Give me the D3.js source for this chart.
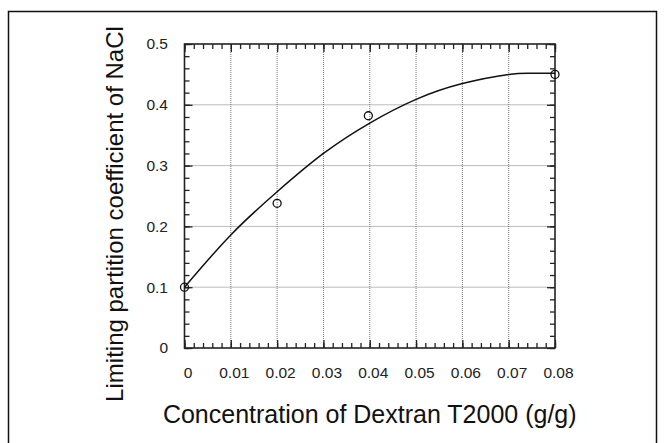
<!DOCTYPE html>
<html>
<head>
<meta charset="utf-8">
<script src="https://cdn.jsdelivr.net/npm/d3@7"></script>
<style>
  body { margin: 0; background: #fff; }
  svg { display: block; font-family: "Liberation Sans", Arial, sans-serif; }
</style>
</head>
<body>
<div class="chart"></div>
<script>
// measured partition coefficients
const concentration = [0, 0.02, 0.0397, 0.08];
const partition = [0.1, 0.238, 0.382, 0.45];

// fitted curve, read at fixed concentrations
const fitConcentration = [0, 0.01, 0.02, 0.03, 0.04, 0.05, 0.06, 0.07, 0.075, 0.08];
const fitPartition = [0.1, 0.186, 0.257, 0.32, 0.37, 0.409, 0.435, 0.45, 0.452, 0.452];

const xTicks = [0, 0.01, 0.02, 0.03, 0.04, 0.05, 0.06, 0.07, 0.08];
const yTicks = [0, 0.1, 0.2, 0.3, 0.4, 0.5];
const xMinorTicks = d3.range(0, 0.0801, 0.002);
const yMinorTicks = d3.range(0, 0.501, 0.02);

const W = 665, H = 443;
const plot = { left: 184.5, right: 555, top: 44, bottom: 348 };

const svg = d3.select(".chart").append("svg")
  .attr("width", W)
  .attr("height", H);

// outer frame
svg.append("rect")
  .attr("x", 8.5).attr("y", 11.5)
  .attr("width", 648).attr("height", 460)
  .attr("fill", "none")
  .attr("stroke", "#111")
  .attr("stroke-width", 1.5);

const x = d3.scaleLinear().domain([0, 0.08]).range([plot.left, plot.right]);
const y = d3.scaleLinear().domain([0, 0.5]).range([plot.bottom, plot.top]);

// dotted grid
const grid = svg.append("g")
  .attr("stroke", "#777")
  .attr("stroke-width", 1)
  .attr("stroke-dasharray", "1,1");
grid.selectAll("line.v")
  .data(xTicks.slice(1, -1))
  .join("line")
  .attr("class", "v")
  .attr("x1", d => x(d)).attr("x2", d => x(d))
  .attr("y1", plot.top).attr("y2", plot.bottom);
grid.selectAll("line.h")
  .data(yTicks.slice(1, -1))
  .join("line")
  .attr("class", "h")
  .attr("y1", d => y(d)).attr("y2", d => y(d))
  .attr("x1", plot.left).attr("x2", plot.right);

function tickAxis(axis, values, size) {
  return axis.tickValues(values).tickSize(size).tickSizeOuter(0).tickFormat("");
}

function styleTicks(g) {
  g.select(".domain").remove();
  g.selectAll(".tick line").attr("stroke", "#222").attr("stroke-width", 1.3);
}

// inward minor and major ticks on all four sides
[[xMinorTicks, 5], [xTicks, 8]].forEach(([vals, len]) => {
  svg.append("g").attr("transform", `translate(0,${plot.bottom})`)
    .call(tickAxis(d3.axisBottom(x), vals, -len)).call(styleTicks);
  svg.append("g").attr("transform", `translate(0,${plot.top})`)
    .call(tickAxis(d3.axisTop(x), vals, -len)).call(styleTicks);
});
[[yMinorTicks, 5], [yTicks, 8]].forEach(([vals, len]) => {
  svg.append("g").attr("transform", `translate(${plot.left},0)`)
    .call(tickAxis(d3.axisLeft(y), vals, -len)).call(styleTicks);
  svg.append("g").attr("transform", `translate(${plot.right},0)`)
    .call(tickAxis(d3.axisRight(y), vals, -len)).call(styleTicks);
});

// plot frame
svg.append("rect")
  .attr("x", plot.left).attr("y", plot.top)
  .attr("width", plot.right - plot.left).attr("height", plot.bottom - plot.top)
  .attr("fill", "none")
  .attr("stroke", "#222")
  .attr("stroke-width", 1.6);

// tick labels
const xLabels = svg.append("g")
  .attr("transform", `translate(0,${plot.bottom})`)
  .call(d3.axisBottom(x).tickValues(xTicks).tickSize(0).tickPadding(18.5)
    .tickFormat(d => d === 0 ? "0" : d3.format(".2f")(d)));
xLabels.select(".domain").remove();
xLabels.selectAll("text")
  .attr("dx", 3)
  .attr("font-size", 15.5)
  .attr("font-family", "Liberation Sans, Arial, sans-serif")
  .attr("fill", "#222");

const yLabels = svg.append("g")
  .attr("transform", `translate(${plot.left},0)`)
  .call(d3.axisLeft(y).tickValues(yTicks).tickSize(0).tickPadding(16.5)
    .tickFormat(d => d === 0 ? "0" : d3.format(".1f")(d)));
yLabels.select(".domain").remove();
yLabels.selectAll("text")
  .attr("font-size", 15.5)
  .attr("font-family", "Liberation Sans, Arial, sans-serif")
  .attr("fill", "#222");

// fitted curve
const line = d3.line()
  .curve(d3.curveNatural)
  .x((d, i) => x(fitConcentration[i]))
  .y(d => y(d));

svg.append("path")
  .datum(fitPartition)
  .attr("fill", "none")
  .attr("stroke", "#111")
  .attr("stroke-width", 1.5)
  .attr("d", line);

// data points
svg.append("g")
  .selectAll("circle")
  .data(partition)
  .join("circle")
  .attr("cx", (d, i) => x(concentration[i]))
  .attr("cy", d => y(d))
  .attr("r", 4)
  .attr("fill", "none")
  .attr("stroke", "#111")
  .attr("stroke-width", 1.3);

// axis titles
svg.append("text")
  .attr("x", (plot.left + plot.right) / 2)
  .attr("y", 423)
  .attr("text-anchor", "middle")
  .attr("font-size", 25)
  .attr("fill", "#111")
  .text("Concentration of Dextran T2000 (g/g)");

svg.append("text")
  .attr("transform", "translate(123,214) rotate(-90)")
  .attr("text-anchor", "middle")
  .attr("font-size", 24)
  .attr("fill", "#111")
  .text("Limiting partition coefficient of NaCl");
</script>
</body>
</html>
